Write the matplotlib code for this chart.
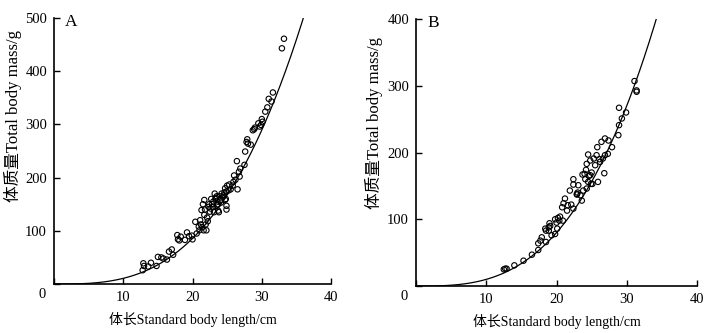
import matplotlib
matplotlib.use("Agg")
import matplotlib.pyplot as plt
import numpy as np

plt.rcParams['font.family'] = ['Liberation Serif', 'Noto Sans CJK SC']
plt.rcParams['font.size'] = 10.5

# panel A: length (cm), mass (g)
a_len = [33.2, 32.9, 31.6, 31.4, 31.0, 30.8, 30.5, 30.0, 29.9, 29.5, 29.7, 30.1, 28.9, 28.7, 29.0,
         27.9, 27.8, 28.0, 28.4, 27.6, 26.4, 27.5, 26.9, 26.7, 26.8, 26.5, 26.0, 25.9, 25.3, 24.7,
         25.0, 24.4, 24.9, 24.7, 24.9, 24.9, 24.0, 23.7, 23.5, 23.0, 23.2, 22.5, 22.3, 21.7, 21.7,
         21.3, 21.1, 21.0, 21.6, 22.0, 20.6, 20.4, 20.0, 19.9, 19.2, 18.9, 18.3, 17.8, 17.9, 17.2,
         17.0, 16.6, 16.3, 15.8, 15.5, 15.0, 14.8, 14.0, 13.6, 13.0, 12.9, 12.8, 22.8, 23.4, 23.9,
         24.2, 22.6, 23.1, 23.6, 24.5, 22.1, 21.9, 21.5, 22.4, 23.8, 24.1, 25.5, 25.8, 24.6, 23.3,
         22.9, 22.2, 21.4, 21.8, 23.5, 24.8, 25.2, 26.2, 22.7, 23.0, 23.7, 21.2, 20.9, 18.1, 19.5]
a_mass = [461, 443, 360, 343, 348, 332, 324, 310, 299, 302, 296, 305, 291, 289, 294,
          272, 267, 264, 262, 249, 231, 224, 217, 211, 202, 178, 204, 192, 187, 180,
          185, 164, 174, 158, 140, 147, 158, 138, 148, 155, 170, 136, 145, 158, 130,
          139, 120, 101, 101, 101, 95, 117, 84, 91, 97, 83, 89, 92, 84, 55,
          65, 61, 46, 48, 50, 51, 34, 40, 33, 34, 39, 26, 150, 162, 165,
          170, 142, 135, 155, 167, 125, 112, 150, 150, 135, 153, 178, 185, 172, 160,
          145, 118, 107, 140, 165, 160, 176, 196, 160, 145, 150, 112, 108, 82, 90]

# panel B
b_len = [31.1, 31.4, 31.4, 28.9, 29.9, 29.3, 28.9, 28.8, 27.9, 27.4, 26.9, 26.4, 25.8, 27.3, 26.9,
         26.8, 25.9, 24.5, 24.8, 25.3, 25.5, 25.7, 26.2, 26.6, 24.3, 24.2, 24.0, 24.8, 24.9, 25.1,
         24.5, 24.3, 23.8, 23.6, 23.7, 23.1, 22.9, 23.4, 22.4, 22.4, 21.9, 22.1, 22.4, 21.6, 21.2,
         21.0, 20.8, 20.9, 20.5, 20.4, 20.0, 19.8, 20.1, 19.8, 19.3, 19.0, 18.9, 18.9, 18.5, 18.4,
         18.5, 17.9, 17.7, 17.4, 17.4, 16.5, 15.3, 14.0, 12.9, 12.5, 12.7, 22.9, 23.0, 24.6, 25.0,
         21.5, 20.2, 19.1, 24.1, 26.1]
b_mass = [307, 293, 291, 267, 260, 251, 241, 226, 208, 218, 221, 216, 208, 198, 196,
          169, 156, 197, 188, 191, 181, 196, 186, 191, 183, 174, 168, 166, 153, 153,
          156, 146, 143, 128, 167, 151, 138, 136, 160, 152, 143, 122, 116, 121, 131,
          124, 118, 98, 104, 98, 95, 100, 86, 78, 76, 94, 88, 83, 83, 86,
          66, 73, 68, 64, 54, 47, 38, 31, 26, 25, 26, 137, 140, 165, 170,
          113, 102, 90, 160, 190]

# fitted curves W = a * L^b
a_fit = (0.01072, 3.0)
b_fit = (0.0100, 3.0)

fig = plt.figure(figsize=(7.16, 3.33), dpi=100)
ax1 = fig.add_axes([0.0754, 0.147, 0.387, 0.799])
ax2 = fig.add_axes([0.581, 0.141, 0.3925, 0.802])

panels = [(ax1, a_len, a_mass, a_fit, 500, 'A', (-0.115, 0.63)),
          (ax2, b_len, b_mass, b_fit, 400, 'B', (-0.117, 0.61))]

for ax, xs, ys, fit, ymax, lab, ylc in panels:
    L = np.linspace(0, 40, 400)
    W = fit[0] * L ** fit[1]
    m = W <= ymax
    ax.plot(L[m], W[m], color='black', lw=0.9)
    ax.scatter(xs, ys, s=15, facecolors='none', edgecolors='black', linewidths=0.8)
    ax.set_xlim(0, 40)
    ax.set_ylim(0, ymax)
    ax.set_xticks([0, 10, 20, 30, 40])
    ax.set_xticklabels(['', '10', '20', '30', '40'])
    yt = list(range(0, ymax + 1, 100))
    ax.set_yticks(yt)
    ax.set_yticklabels([''] + [str(v) for v in yt[1:]])
    ax.tick_params(direction='in', length=4, width=1, pad=5)
    ax.spines['top'].set_visible(False)
    ax.spines['right'].set_visible(False)
    ax.spines['left'].set_linewidth(1.2)
    ax.spines['bottom'].set_linewidth(1.2)
    ax.text(-0.03, -0.015, '0', transform=ax.transAxes, ha='right', va='top')
    ax.text(0.04, 0.985, lab, transform=ax.transAxes, ha='left', va='center', fontsize=12.5)
    ax.set_xlabel('体长Standard body length/cm', fontsize=10, labelpad=6)
    ax.set_ylabel('体质量Total body mass/g', fontsize=12)
    ax.yaxis.set_label_coords(*ylc)

fig.savefig('out.png', dpi=100)
